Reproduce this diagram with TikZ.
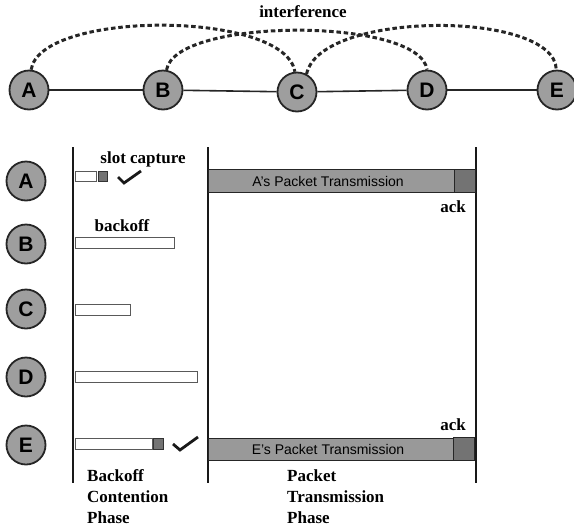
\documentclass[tikz,border=0pt]{standalone}
\usepackage{fontspec}
\setmainfont{Liberation Serif}
\setsansfont{Liberation Sans}
\begin{document}
\begin{tikzpicture}[x=1pt,y=-1pt,
  nd/.style={circle,draw=black!85,line width=1.8pt,fill=black!38,minimum size=39pt,inner sep=0pt,font=\sffamily\bfseries\fontsize{21}{21}\selectfont},
  lnk/.style={line width=1.6pt,black!85},
  intf/.style={line width=3pt,dash pattern=on 4.5pt off 2.8pt,black!85},
  phase/.style={line width=2.8pt,black!90},
  lbl/.style={font=\bfseries\fontsize{17}{20}\selectfont,inner sep=0pt},
  plbl/.style={font=\bfseries\fontsize{17}{21}\selectfont,inner sep=0pt,align=left,anchor=north west},
  bo/.style={draw=black!65,line width=1pt,fill=white},
  sq/.style={draw=black!80,line width=0.8pt,fill=black!55},
  pkt/.style={draw=black!85,line width=1pt,fill=black!40},
  ptxt/.style={font=\sffamily\fontsize{14}{14}\selectfont,inner sep=0pt},
  ackbox/.style={draw=black!85,line width=1pt,fill=black!55},
  chk/.style={line width=2.8pt,black!90}]
\useasboundingbox (0,0) rectangle (574,531);
% top graph
\node[nd] (A) at (29,90) {A};
\node[nd] (B) at (163,90) {B};
\node[nd] (C) at (297,92) {C};
\node[nd] (D) at (427,90) {D};
\node[nd] (E) at (557,90) {E};
\draw[lnk] (A) -- (B);
\draw[lnk] (B) -- (C);
\draw[lnk] (C) -- (D);
\draw[lnk] (D) -- (E);
\node[lbl] (intf) at (303,12) {interference};
\draw[intf] (A.84) .. controls (40,10) and (285,10) .. (C.96);
\draw[intf] (B.80) .. controls (175,17) and (420,17) .. (D.90);
\draw[intf] (C.62) .. controls (320,10) and (555,10) .. (E.92);
% phase lines
\coordinate (L1) at (73,147); \coordinate (L2) at (73,483);
\coordinate (M1) at (208,147); \coordinate (M2) at (208,483);
\coordinate (R1) at (476,147); \coordinate (R2) at (476,483);
\draw[phase] (L1) -- (L2);
\draw[phase] (M1) -- (M2);
\draw[phase] (R1) -- (R2);
% row nodes
\node[nd] (rA) at (26,181) {A};
\node[nd] (rB) at (26,244) {B};
\node[nd] (rC) at (26,309) {C};
\node[nd] (rD) at (26,377) {D};
\node[nd] (rE) at (26,445) {E};
% A row
\draw[bo] (75,171.5) rectangle (96,181.5);
\draw[sq] (98,171) rectangle (107,181.5);
\draw[chk] (118,177) -- (124,183) -- (141,171);
\node[lbl] (slot) at (143,159) {slot capture};
\draw[pkt] (208,169.5) rectangle (454,192);
\node[ptxt] (ta) at (328,181) {A's Packet Transmission};
\draw[ackbox] (454,169.5) rectangle (475,192);
\node[lbl] (acka) at (453,207) {ack};
% B row
\node[lbl] (bk) at (122,226) {backoff};
\draw[bo] (75,237) rectangle (174,248.5);
% C row
\draw[bo] (75,304) rectangle (130,315);
% D row
\draw[bo] (75,371) rectangle (197,382);
% E row
\draw[bo] (75,438) rectangle (152,449);
\draw[sq] (153,438) rectangle (163,449);
\draw[chk] (173,444) -- (180,450) -- (198,437);
\draw[pkt] (208,438) rectangle (453,460);
\node[ptxt] (te) at (328,449) {E's Packet Transmission};
\draw[ackbox] (453,437) rectangle (474,460);
\node[lbl] (acke) at (453,425) {ack};
% phase labels
\node[plbl] (bcp) at (87,469) {Backoff\\Contention\\Phase};
\node[plbl] (ptp) at (287,469) {Packet\\Transmission\\Phase};
\end{tikzpicture}
\end{document}
